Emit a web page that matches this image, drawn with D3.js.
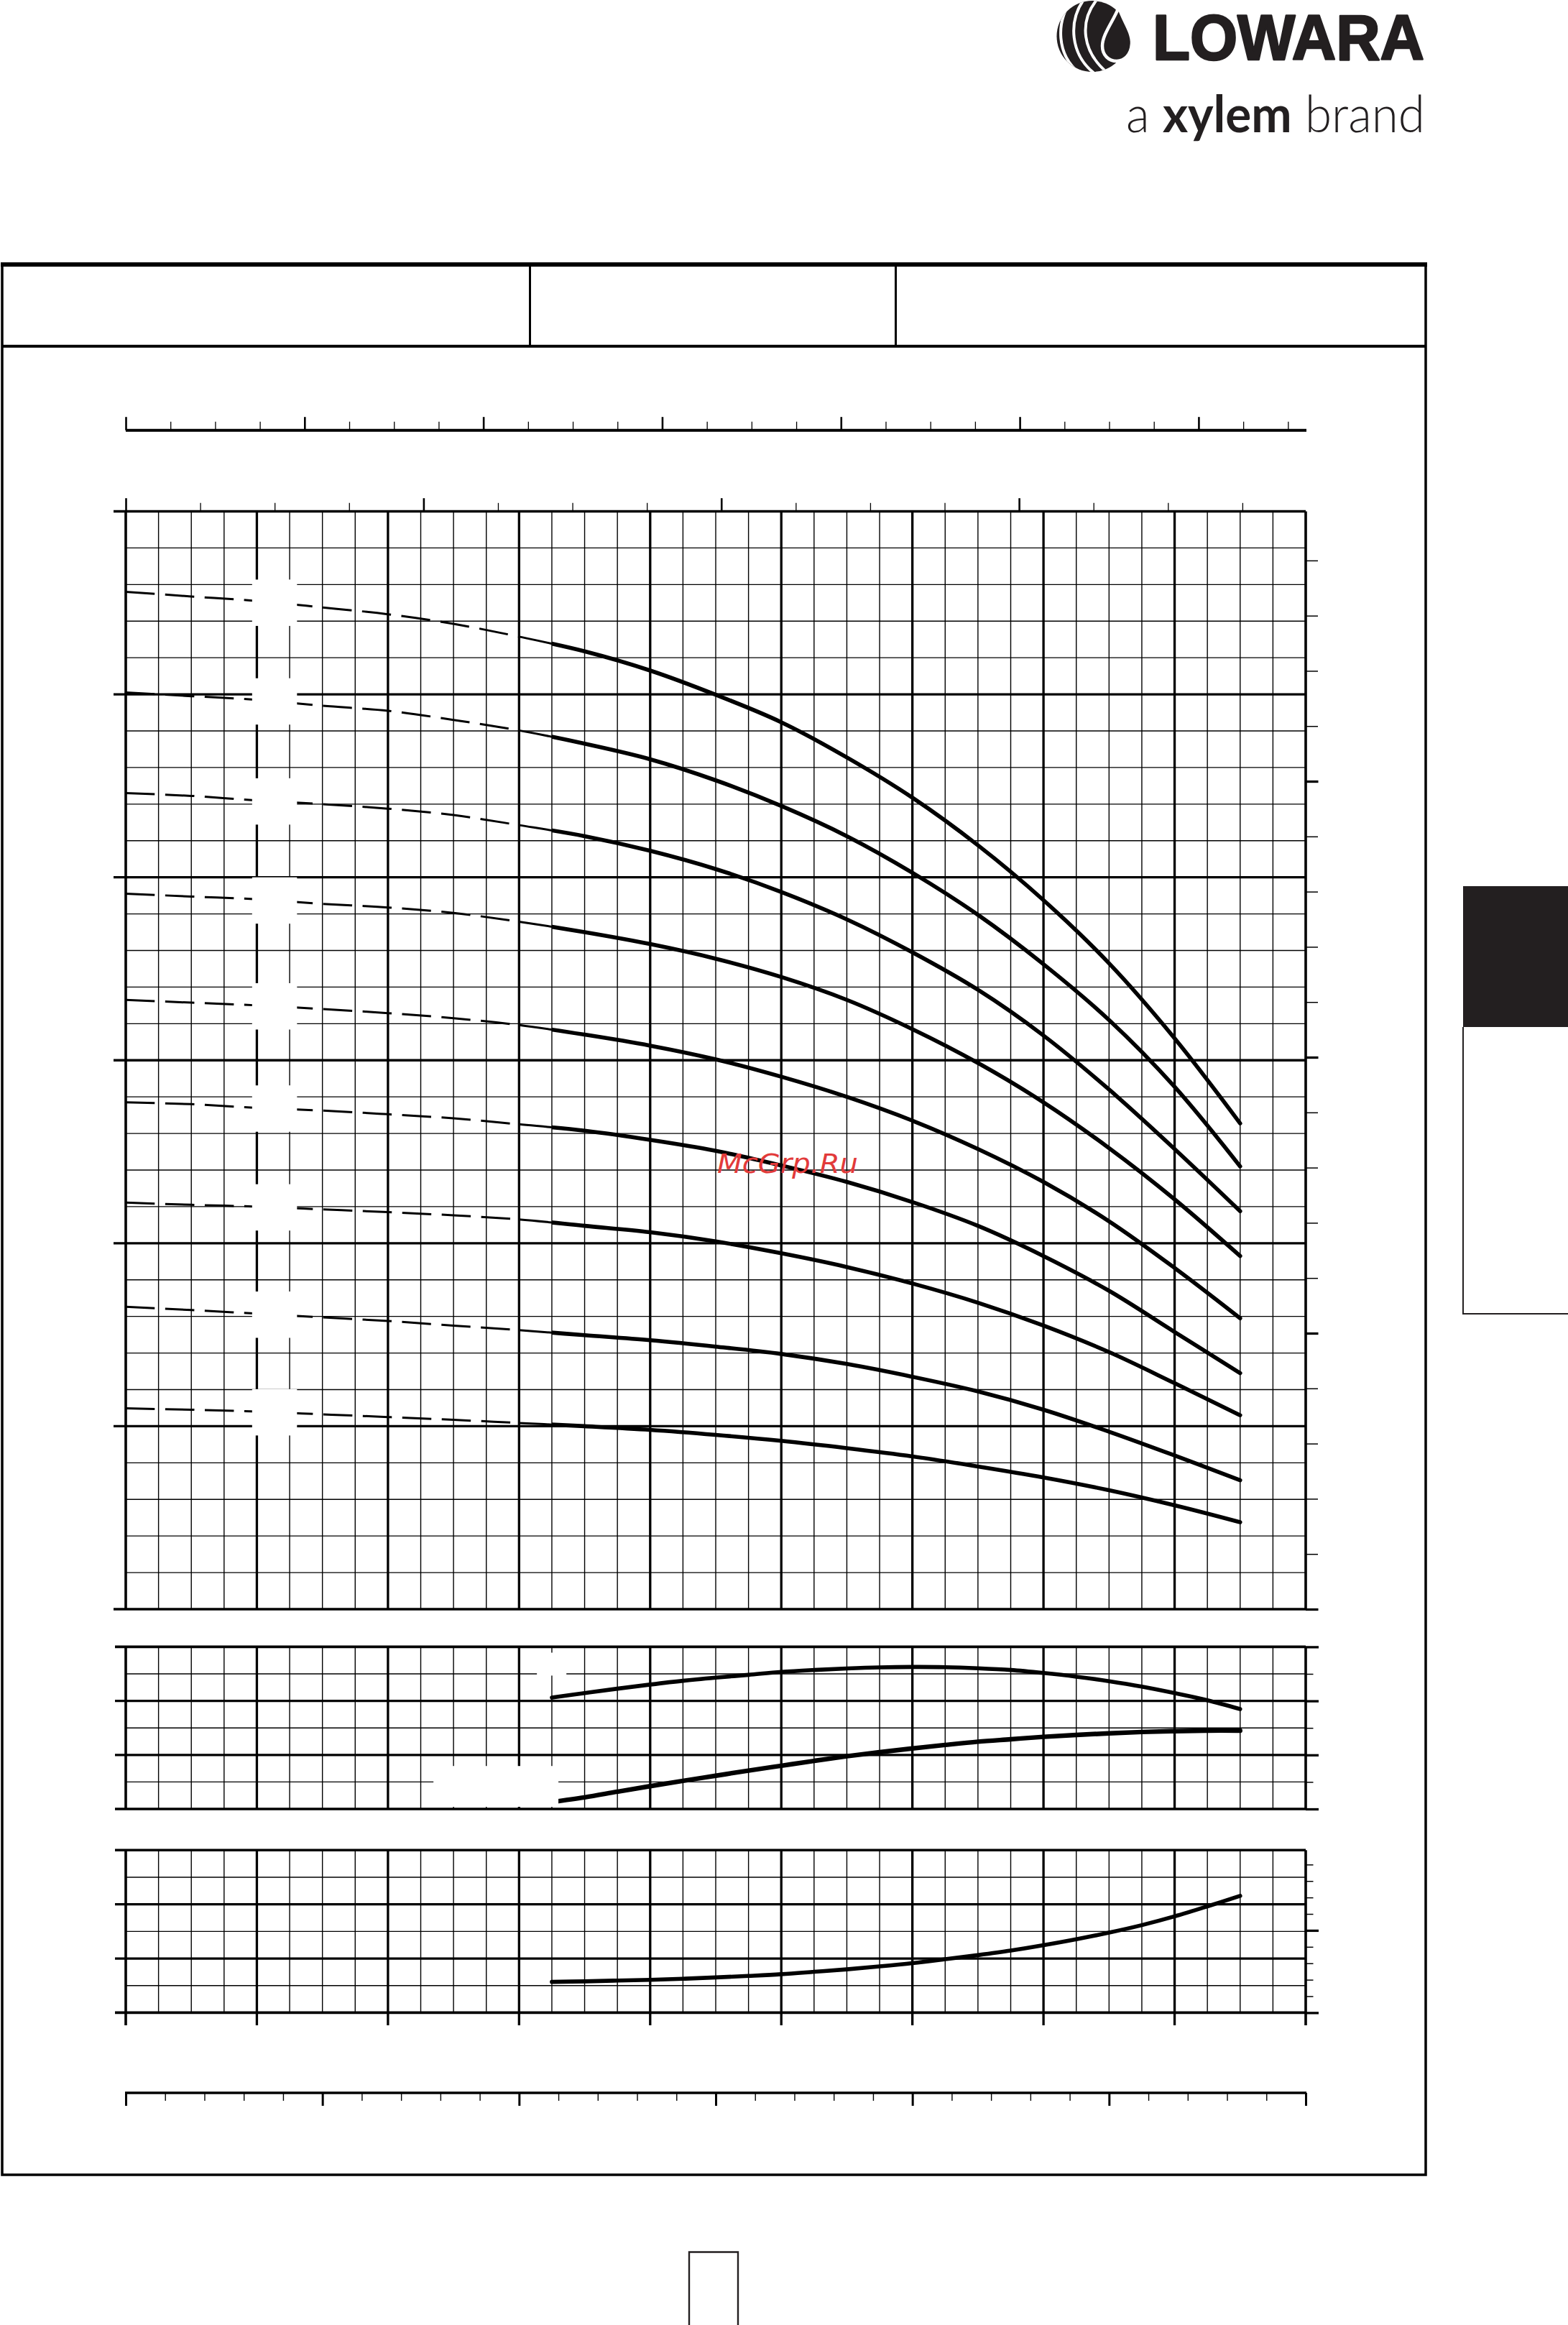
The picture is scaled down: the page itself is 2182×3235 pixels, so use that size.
<!DOCTYPE html>
<html><head><meta charset="utf-8">
<script src="https://cdn.jsdelivr.net/npm/d3@7"></script>
<style>html,body{margin:0;padding:0;background:#fff;}svg{display:block;}</style>
</head><body>
<svg id="c" width="2182" height="3235"></svg>
<script>
// ---------------- DATA ----------------
// flow (m3/h) points for the head curves
const flowHead = [0, 0.5, 1, 1.5, 2, 2.5, 3, 3.5, 4, 4.5, 5, 5.5, 6, 6.5, 7, 7.5, 8, 8.5];
// head (m) for each pump size, top curve first
const head10 = [111.2, 110.7, 110.2, 109.5, 108.75, 107.7, 106.3, 104.7, 102.6, 99.95, 96.95, 93.1, 88.7, 83.5, 77.5, 70.6, 62.4, 53.1];
const head9  = [100.2, 99.8, 99.4, 98.75, 98.2, 97.2, 96.05, 94.6, 92.9, 90.6, 87.8, 84.5, 80.5, 75.9, 70.5, 64.4, 57.1, 48.4];
const head8  = [89.2, 88.9, 88.4, 88.0, 87.5, 86.8, 85.7, 84.5, 82.9, 80.9, 78.4, 75.4, 71.8, 67.7, 62.7, 56.8, 50.3, 43.5];
const head7  = [78.2, 77.9, 77.6, 77.1, 76.7, 76.1, 75.15, 74.0, 72.7, 71.1, 69.1, 66.6, 63.4, 59.7, 55.4, 50.4, 44.8, 38.6];
const head6  = [66.6, 66.3, 66.0, 65.6, 65.15, 64.6, 63.85, 62.8, 61.6, 60.1, 58.2, 56.0, 53.4, 50.3, 46.7, 42.4, 37.3, 31.8];
const head5  = [55.4, 55.2, 54.8, 54.5, 54.1, 53.65, 53.0, 52.3, 51.3, 50.1, 48.5, 46.7, 44.5, 41.9, 38.6, 34.8, 30.3, 25.8];
const head4  = [44.45, 44.2, 44.0, 43.7, 43.4, 43.05, 42.6, 41.9, 41.2, 40.2, 38.9, 37.4, 35.6, 33.5, 31.0, 28.1, 24.7, 21.2];
const head3  = [33.05, 32.7, 32.3, 31.9, 31.5, 31.0, 30.5, 29.95, 29.4, 28.7, 27.9, 26.8, 25.4, 23.8, 21.8, 19.4, 16.8, 14.1];
const head2  = [21.95, 21.8, 21.6, 21.3, 21.0, 20.7, 20.35, 20.0, 19.6, 19.05, 18.4, 17.6, 16.7, 15.6, 14.4, 13.0, 11.35, 9.5];
const headSeries = [head10, head9, head8, head7, head6, head5, head4, head3, head2];

// duty range flow points (m3/h)
const flowDuty = [3.25, 3.5, 3.75, 4, 4.25, 4.5, 4.75, 5, 5.25, 5.5, 5.75, 6, 6.25, 6.5, 6.75, 7, 7.25, 7.5, 7.75, 8, 8.25, 8.5];
const efficiency = [51.5, 53.6, 55.65, 57.55, 59.3, 60.75, 62.05, 63.4, 64.3, 65.0, 65.5, 65.7, 65.6, 65.1, 64.3, 62.9, 61.2, 59.1, 56.6, 53.6, 50.3, 46.2];
const npsh = [0.26, 0.43, 0.64, 0.845, 1.04, 1.23, 1.42, 1.60, 1.78, 1.95, 2.10, 2.24, 2.37, 2.49, 2.58, 2.67, 2.74, 2.80, 2.85, 2.88, 2.90, 2.90];
const power = [0.1784, 0.1789, 0.1796, 0.1803, 0.1813, 0.1825, 0.1839, 0.1855, 0.1877, 0.1900, 0.1927, 0.1957, 0.1993, 0.2031, 0.2073, 0.2123, 0.2178, 0.2239, 0.2308, 0.2389, 0.2481, 0.2578];

// operating limits and label anchors (data units)
const dashEnd = 3.0, dutyStart = 3.25, dutyEnd = 8.5;
const labelFlow = 1.135;
const effLabelBox = {q0: 3.136, q1: 3.361, v0: 72.3, v1: 61.7};
const npshLabelBox = {q0: 2.347, q1: 3.30, v0: 1.59, v1: 0.08};

// ---------------- SCALES ----------------
const X0 = 175, X1 = 1817;
const x = d3.scaleLinear().domain([0, 9]).range([X0, X1]);
const xImp = d3.scaleLinear().domain([0, 9 * 3.6662]).range([X0, X1]);
const xUs = d3.scaleLinear().domain([0, 9 * 4.4029]).range([X0, X1]);
const xLmin = d3.scaleLinear().domain([0, 150]).range([X0, X1]);
const yH = d3.scaleLinear().domain([0, 120]).range([2239, 711.5]);
const yFt = d3.scaleLinear().domain([0, 397.8]).range([2239, 711.5]);
const yEta = d3.scaleLinear().domain([0, 75]).range([2517, 2291.4]);
const yNpsh = d3.scaleLinear().domain([0, 6]).range([2517, 2291.4]);
const yP = d3.scaleLinear().domain([0.15, 0.30]).range([2800.4, 2574.3]);
const yHp = d3.scaleLinear().domain([0.2, 0.3975]).range([2800.4, 2574.3]);

const svg = d3.select('#c');
svg.append('rect').attr('width', 2182).attr('height', 3235).attr('fill', '#fff');
const INK = '#231f20';

function hLines(g, scale, vals, xa, xb, w) {
  g.append('g').selectAll('line').data(vals).join('line')
    .attr('x1', xa).attr('x2', xb)
    .attr('y1', d => scale(d)).attr('y2', d => scale(d))
    .attr('stroke', '#000').attr('stroke-width', w);
}
function vLines(g, scale, vals, ya, yb, w) {
  g.append('g').selectAll('line').data(vals).join('line')
    .attr('y1', ya).attr('y2', yb)
    .attr('x1', d => scale(d)).attr('x2', d => scale(d))
    .attr('stroke', '#000').attr('stroke-width', w);
}
function tickAxis(gen, tf, vals, size, width) {
  const g = svg.append('g').attr('transform', tf)
    .call(gen.tickValues(vals).tickSize(size).tickSizeOuter(0).tickFormat(''));
  g.select('.domain').remove();
  g.selectAll('.tick line').attr('stroke', '#000').attr('stroke-width', width);
  return g;
}
const near = (a, b) => Math.abs(a - b) < 1e-6;

const qMinor = d3.range(0, 9.001, 0.25).filter(q => !near(q, Math.round(q)));
const qMajor = d3.range(1, 9);

// ---------------- FRAME ----------------
const frame = svg.append('g');
frame.append('rect').attr('x', 3).attr('y', 368).attr('width', 1981).attr('height', 2658)
  .attr('fill', 'none').attr('stroke', '#000').attr('stroke-width', 3.5);
frame.append('line').attr('x1', 1).attr('x2', 1986).attr('y1', 368).attr('y2', 368).attr('stroke', '#000').attr('stroke-width', 6);
frame.append('line').attr('x1', 3).attr('x2', 1984).attr('y1', 481.7).attr('y2', 481.7).attr('stroke', '#000').attr('stroke-width', 4);
[737.5, 1246.5].forEach(xx => frame.append('line').attr('x1', xx).attr('x2', xx).attr('y1', 368).attr('y2', 481.7).attr('stroke', '#000').attr('stroke-width', 3));

// right side tab
svg.append('rect').attr('x', 2036).attr('y', 1233).attr('width', 150).attr('height', 196).attr('fill', INK);
svg.append('path').attr('d', 'M2036,1429V1828H2186').attr('fill', 'none').attr('stroke', INK).attr('stroke-width', 2);
// page number box
svg.append('path').attr('d', 'M959,3240V3133.5H1027V3240').attr('fill', 'none').attr('stroke', INK).attr('stroke-width', 2.4);

// ---------------- LOGO ----------------
const logo = svg.append('g');
const defs = svg.append('defs');
defs.append('clipPath').attr('id', 'logoClip').append('circle').attr('cx', 1520).attr('cy', 50.5).attr('r', 49.5);
const lg = logo.append('g').attr('clip-path', 'url(#logoClip)');
lg.append('rect').attr('x', 1465).attr('y', 0).attr('width', 120).attr('height', 102).attr('fill', INK);
['M1493,-2 C1468,30 1470,78 1504,103', 'M1509,-2 C1486,30 1489,76 1524,103', 'M1526,0 C1502,30 1505,72 1542,102']
  .forEach(d => lg.append('path').attr('d', d).attr('fill', 'none').attr('stroke', '#fff').attr('stroke-width', 4));
logo.append('path').attr('d', 'M1557,10 C1562,28 1576,44 1575,61 C1574,76 1565,85 1554,85 C1543,85 1534,77 1534,64 C1534,48 1549,30 1557,10 Z')
  .attr('fill', INK).attr('stroke', '#fff').attr('stroke-width', 4.5);
logo.append('text').attr('x', 1604).attr('y', 82.5).attr('font-family', 'Liberation Sans').attr('font-weight', 700)
  .attr('font-size', 89).attr('textLength', 378).attr('lengthAdjust', 'spacingAndGlyphs')
  .attr('fill', INK).attr('stroke', INK).attr('stroke-width', 2.6).attr('stroke-linejoin', 'round').text('LOWARA');
const tag = logo.append('text').attr('x', 1567).attr('y', 184).attr('font-family', 'Lato')
  .attr('font-size', 70).attr('textLength', 416).attr('lengthAdjust', 'spacingAndGlyphs').attr('fill', INK);
tag.append('tspan').attr('font-weight', 300).text('a ');
tag.append('tspan').attr('font-weight', 700).text('xylem');
tag.append('tspan').attr('font-weight', 300).text(' brand');

// ---------------- TOP AXES ----------------
// Imp gpm axis
svg.append('line').attr('x1', xImp(0)).attr('x2', X1 + 1).attr('y1', 598.7).attr('y2', 598.7).attr('stroke', '#000').attr('stroke-width', 4);
const impVals = d3.range(0, 33, 1.25);
tickAxis(d3.axisTop(xImp), 'translate(0,598.7)', impVals.filter(v => !near(v % 5, 0)), 12, 1.3);
tickAxis(d3.axisTop(xImp), 'translate(0,598.7)', impVals.filter(v => near(v % 5, 0)), 18.5, 2.6);
// US gpm axis on top of the head chart
const usVals = d3.range(0, 39, 2.5);
tickAxis(d3.axisTop(xUs), 'translate(0,711.5)', usVals.filter(v => !near(v % 10, 0)), 11.7, 1.3);
tickAxis(d3.axisTop(xUs), 'translate(0,711.5)', usVals.filter(v => near(v % 10, 0)), 18.3, 2.6);

// ---------------- HEAD CHART ----------------
const hg = svg.append('g');
vLines(hg, x, qMinor, 711.5, 2239, 1.4);
vLines(hg, x, qMajor, 711.5, 2239, 3.3);
hLines(hg, yH, d3.range(4, 120, 4).filter(h => h % 20 !== 0), X0, X1, 1.4);
hLines(hg, yH, [20, 40, 60, 80, 100], X0 - 17, X1, 3.3);
hLines(hg, yH, [0, 120], X0 - 17, X1, 3.6);
vLines(hg, x, [0, 9], 711.5, 2239, 3.6);
// right ft ticks
const ftVals = d3.range(0, 381, 20);
tickAxis(d3.axisRight(yFt), `translate(${X1},0)`, ftVals.filter(v => v % 100 !== 0), 17, 1.5);
tickAxis(d3.axisRight(yFt), `translate(${X1},0)`, ftVals.filter(v => v % 100 === 0), 17.5, 3.3);

// clip regions for dashed / thin / thick portions
function clipX(id, q0, q1, y0, y1) {
  defs.append('clipPath').attr('id', id).append('rect')
    .attr('x', x(q0)).attr('width', x(q1) - x(q0)).attr('y', y0).attr('height', y1 - y0);
}
clipX('cDash', 0, dashEnd, 700, 2250);
clipX('cThin', dashEnd, dutyStart, 700, 2250);
defs.append('clipPath').attr('id', 'cThick').append('rect')
  .attr('x', x(dutyStart)).attr('width', x(dutyEnd) - x(dutyStart) + 6).attr('y', 700).attr('height', 1550);

const smooth = d3.curveCatmullRom.alpha(0.5);
const headLine = d3.line().x(d => x(d[0])).y(d => yH(d[1])).curve(smooth);
const cg = svg.append('g').attr('fill', 'none').attr('stroke', '#000');
headSeries.forEach(s => {
  const pts = flowHead.map((q, i) => [q, s[i]]);
  const dstr = headLine(pts);
  cg.append('path').attr('d', dstr).attr('clip-path', 'url(#cDash)').attr('stroke-width', 3).attr('stroke-dasharray', '40.5 14.5');
  cg.append('path').attr('d', dstr).attr('clip-path', 'url(#cThin)').attr('stroke-width', 3);
  cg.append('path').attr('d', dstr).attr('clip-path', 'url(#cThick)').attr('stroke-width', 5.6).attr('stroke-linecap', 'round');
});

// label boxes (white) at the curve label positions
const boxG = svg.append('g');
headSeries.forEach(s => {
  const hAt = d3.scaleLinear().domain(flowHead).range(s)(labelFlow);
  boxG.append('rect').attr('x', x(labelFlow) - 31.25).attr('y', yH(hAt) - 32.25)
    .attr('width', 62.5).attr('height', 64.5).attr('fill', '#fff');
});

// watermark
svg.append('text').attr('x', 998).attr('y', 1632).attr('font-family', 'DejaVu Sans').attr('font-style', 'italic')
  .attr('font-size', 37).attr('textLength', 196).attr('lengthAdjust', 'spacingAndGlyphs')
  .attr('fill', '#e23a3a').text('McGrp.Ru');

// ---------------- EFFICIENCY / NPSH CHART ----------------
const eg = svg.append('g');
vLines(eg, x, qMinor, 2291.4, 2517, 1.4);
vLines(eg, x, qMajor, 2291.4, 2517, 3.3);
hLines(eg, yEta, [12.5, 37.5, 62.5], X0, X1, 1.4);
hLines(eg, yEta, [25, 50], X0 - 15, X1, 3.3);
hLines(eg, yEta, [0, 75], X0 - 15, X1, 3.6);
vLines(eg, x, [0, 9], 2291.4, 2517, 3.6);
tickAxis(d3.axisRight(yNpsh), `translate(${X1},0)`, [1, 3, 5], 10.5, 1.5);
tickAxis(d3.axisRight(yNpsh), `translate(${X1},0)`, [0, 2, 4, 6], 18, 3.3);

const effLine = d3.line().x(d => x(d[0])).y(d => yEta(d[1])).curve(smooth);
const npshLine = d3.line().x(d => x(d[0])).y(d => yNpsh(d[1])).curve(smooth);
svg.append('path').attr('d', effLine(flowDuty.map((q, i) => [q, efficiency[i]])))
  .attr('fill', 'none').attr('stroke', '#000').attr('stroke-width', 5.6).attr('stroke-linecap', 'round');
svg.append('path').attr('d', npshLine(flowDuty.map((q, i) => [q, npsh[i]])))
  .attr('fill', 'none').attr('stroke', '#000').attr('stroke-width', 6.4).attr('stroke-linecap', 'round');
svg.append('rect').attr('x', x(effLabelBox.q0)).attr('width', x(effLabelBox.q1) - x(effLabelBox.q0))
  .attr('y', yEta(effLabelBox.v0)).attr('height', yEta(effLabelBox.v1) - yEta(effLabelBox.v0)).attr('fill', '#fff');
svg.append('rect').attr('x', x(npshLabelBox.q0)).attr('width', x(npshLabelBox.q1) - x(npshLabelBox.q0))
  .attr('y', yNpsh(npshLabelBox.v0)).attr('height', yNpsh(npshLabelBox.v1) - yNpsh(npshLabelBox.v0)).attr('fill', '#fff');

// ---------------- POWER CHART ----------------
const pg = svg.append('g');
vLines(pg, x, qMinor, 2574.3, 2800.4, 1.4);
vLines(pg, x, qMajor, 2574.3, 2818, 3.3);
vLines(pg, x, [0, 9], 2574.3, 2818, 3.6);
hLines(pg, yP, [0.175, 0.225, 0.275], X0, X1, 1.4);
hLines(pg, yP, [0.2, 0.25], X0 - 15, X1, 3.3);
hLines(pg, yP, [0.15, 0.30], X0 - 15, X1, 3.6);
const hpVals = d3.range(0, 10).map(k => 0.2 + k * 0.02);
tickAxis(d3.axisRight(yHp), `translate(${X1},0)`, hpVals.filter((v, k) => k % 5 !== 0), 10.5, 1.5);
tickAxis(d3.axisRight(yHp), `translate(${X1},0)`, hpVals.filter((v, k) => k % 5 === 0), 18, 3.3);
const pLine = d3.line().x(d => x(d[0])).y(d => yP(d[1])).curve(smooth);
svg.append('path').attr('d', pLine(flowDuty.map((q, i) => [q, power[i]])))
  .attr('fill', 'none').attr('stroke', '#000').attr('stroke-width', 5.6).attr('stroke-linecap', 'round');

// ---------------- BOTTOM l/min AXIS ----------------
svg.append('line').attr('x1', X0 - 1).attr('x2', X1 + 1).attr('y1', 2912).attr('y2', 2912).attr('stroke', '#000').attr('stroke-width', 3.6);
const lVals = d3.range(0, 151, 5);
tickAxis(d3.axisBottom(xLmin), 'translate(0,2912)', lVals.filter(v => v % 25 !== 0), 11, 1.4);
tickAxis(d3.axisBottom(xLmin), 'translate(0,2912)', lVals.filter(v => v % 25 === 0), 18, 3);
</script>
</body></html>
